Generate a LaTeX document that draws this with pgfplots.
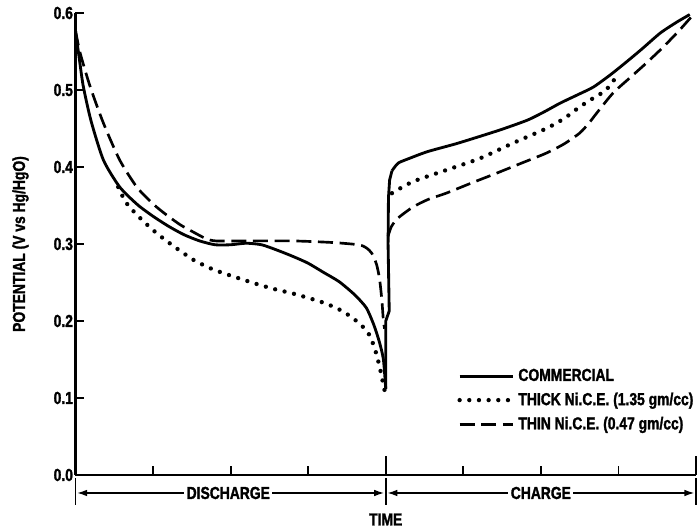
\documentclass[border=0pt]{standalone}
\usepackage{pgfplots}
\pgfplotsset{compat=1.18}
\usepackage{fontspec}
\setmainfont{Liberation Sans Bold}[FakeStretch=0.8, FakeBold=1.5]
\usetikzlibrary{arrows.meta}
\begin{document}
\begin{tikzpicture}[font=\fontsize{10.4}{12}\selectfont]
\begin{axis}[
  at={(0,0)}, anchor=south west,
  scale only axis, width=372.3pt, height=277.2pt,
  xmin=0, xmax=8, ymin=0, ymax=0.6,
  clip=false,
  axis lines*=left,
  axis line style={line width=1.6pt},
  tick style={line width=1.1pt, black},
  tick align=inside,
  xtick={1,2,3,5,6,7}, xticklabels={},
  extra x ticks={4,8}, extra x tick labels={},
  extra x tick style={major tick length=11.4pt},
  major tick length=5.4pt,
  ytick={0,0.1,0.2,0.3,0.4,0.5,0.6},
  yticklabel style={xshift=2pt, font=\fontsize{10.4}{12}\selectfont,
    /pgf/number format/fixed, /pgf/number format/fixed zerofill,
    /pgf/number format/precision=1, /pgf/number format/assume math mode=true},
  ylabel={POTENTIAL (V vs Hg/HgO)},
  ylabel style={at={(rel axis cs:0,0.5)}, anchor=center, yshift=33pt, font=\fontsize{10.4}{12}\selectfont},
  xlabel={TIME},
  xlabel style={at={(rel axis cs:0.5,0)}, anchor=center, yshift=-26.7pt, font=\fontsize{10.4}{12}\selectfont},
  legend style={at={(0.607,0.245)}, anchor=north west, draw=none, fill=none,
    row sep=1.5pt, font=\fontsize{10.4}{12}\selectfont},
  legend cell align=left,
  legend image code/.code={\draw[#1] (0pt,0pt) -- (32pt,0pt);},
]
% COMMERCIAL
\addplot[black, line width=1.7pt, smooth, tension=0.4] coordinates {
(0,0.577)(0.05,0.54)(0.1,0.505)(0.2,0.46)(0.36,0.409)(0.57,0.374)(0.8,0.351)(1.0,0.336)(1.2,0.323)(1.4,0.312)(1.6,0.304)(1.8,0.299)(2.0,0.299)(2.2,0.301)(2.4,0.299)(2.6,0.292)(2.8,0.284)(3.0,0.275)(3.2,0.263)(3.4,0.251)(3.6,0.234)(3.75,0.217)(3.85,0.194)(3.92,0.172)(3.97,0.150)(4.0,0.112)
};
\addlegendentry{COMMERCIAL}
% THICK
\addplot[black, line width=2.6pt, line cap=round, dash pattern=on 0pt off 5.8pt, smooth, tension=0.4] coordinates {
(0.55,0.374)(0.65,0.354)(0.8,0.337)(1.0,0.318)(1.2,0.302)(1.51,0.280)(1.75,0.268)(1.94,0.261)(2.15,0.254)(2.37,0.247)(2.58,0.241)(2.79,0.236)(3.0,0.230)(3.22,0.223)(3.4,0.215)(3.56,0.205)(3.7,0.193)(3.8,0.180)(3.88,0.157)(3.94,0.132)(3.98,0.112)(4.0,0.105)
};
\addlegendentry{THICK Ni.C.E. (1.35 gm/cc)}
% THIN
\addplot[black, line width=1.6pt, dash pattern=on 9pt off 4pt, smooth, tension=0.4] coordinates {
(0,0.577)(0.06,0.548)(0.19,0.504)(0.36,0.457)(0.57,0.409)(0.79,0.374)(1.0,0.352)(1.17,0.338)(1.35,0.325)(1.51,0.316)(1.68,0.307)(1.81,0.304)(2.2,0.304)(2.8,0.304)(3.3,0.302)(3.65,0.299)(3.75,0.295)(3.82,0.288)(3.88,0.274)(3.92,0.255)(3.95,0.227)(3.97,0.20)(3.985,0.19)
};
\addlegendentry{THIN Ni.C.E. (0.47 gm/cc)}
% commercial jump and charge
\addplot[black, line width=1.7pt, forget plot] coordinates {
(4.0,0.112)(4.0,0.20)(4.045,0.213)(4.03,0.30)(4.035,0.36)(4.05,0.383)(4.08,0.395)
};
\addplot[black, line width=1.7pt, smooth, tension=0.4, forget plot] coordinates {
(4.08,0.395)(4.16,0.405)(4.3,0.411)(4.54,0.420)(4.9,0.430)(5.19,0.439)(5.5,0.449)(5.83,0.461)(6.05,0.472)(6.25,0.483)(6.5,0.495)(6.68,0.504)(6.9,0.52)(7.11,0.537)(7.3,0.553)(7.54,0.574)(7.75,0.588)(7.92,0.598)
};
% thick charge
\addplot[black, line width=2.6pt, line cap=round, dash pattern=on 0pt off 5.8pt, smooth, tension=0.4, forget plot] coordinates {
(4.08,0.366)(4.35,0.381)(4.78,0.396)(5.21,0.411)(5.64,0.431)(6.07,0.450)(6.3,0.463)(6.5,0.478)(6.7,0.491)(6.84,0.500)(7.01,0.522)
};
% thin charge
\addplot[black, line width=1.6pt, dash pattern=on 9pt off 4pt, smooth, tension=0.4, forget plot] coordinates {
(4.03,0.31)(4.07,0.322)(4.15,0.333)(4.35,0.348)(4.55,0.358)(4.78,0.366)(5.1,0.379)(5.43,0.392)(5.75,0.405)(6.07,0.418)(6.3,0.430)(6.5,0.444)(6.62,0.457)(6.72,0.470)(6.93,0.496)(7.15,0.516)(7.36,0.535)(7.58,0.556)(7.79,0.578)(7.94,0.595)
};
% discharge / charge brackets
\draw[line width=1.1pt] ([yshift=-2pt]axis cs:0,0) -- ([yshift=-18pt]axis cs:0,0);
\draw[line width=1.1pt] ([yshift=-2pt]axis cs:4,0) -- ([yshift=-18pt]axis cs:4,0);
\draw[line width=1.1pt] ([yshift=-2pt]axis cs:8,0) -- ([yshift=-18pt]axis cs:8,0);
\draw[line width=0.9pt, {Latex[length=6pt,width=4pt]}-{Latex[length=6pt,width=4pt]}] ([yshift=-10.8pt]axis cs:0.02,0) -- ([yshift=-10.8pt]axis cs:3.98,0);
\draw[line width=0.9pt, {Latex[length=6pt,width=4pt]}-{Latex[length=6pt,width=4pt]}] ([yshift=-10.8pt]axis cs:4.02,0) -- ([yshift=-10.8pt]axis cs:7.98,0);
\node[fill=white, inner sep=1.5pt] at ([yshift=-10.8pt]axis cs:1.97,0) {DISCHARGE};
\node[fill=white, inner sep=1.5pt] at ([yshift=-10.8pt]axis cs:6.0,0) {CHARGE};
\end{axis}
\pgfresetboundingbox
\path (-45.3pt,-32.4pt) rectangle (372.9pt,285pt);
\end{tikzpicture}
\end{document}
